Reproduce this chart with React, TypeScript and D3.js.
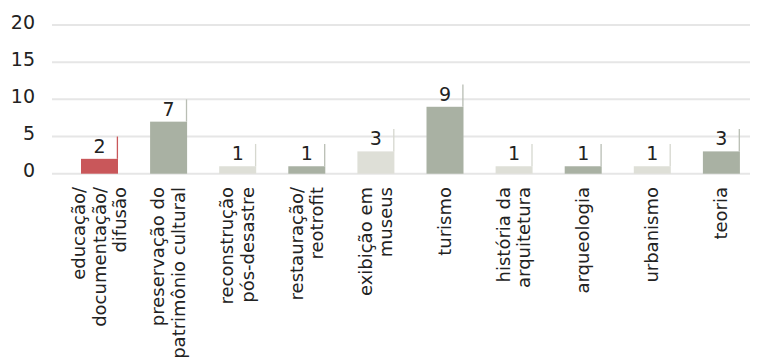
import React from "react";
import * as d3 from "d3";

const categories: string[][] = [
  ["educação/", "documentação/", "difusão"],
  ["preservação do", "patrimônio cultural"],
  ["reconstrução", "pós-desastre"],
  ["restauração/", "reotrofit"],
  ["exibição em", "museus"],
  ["turismo"],
  ["história da", "arquitetura"],
  ["arqueologia"],
  ["urbanismo"],
  ["teoria"],
];
const values: number[] = [2, 7, 1, 1, 3, 9, 1, 1, 1, 3];
const barColors: string[] = [
  "#c9575a", "#a9b1a3", "#dedfd7", "#a9b1a3", "#dedfd7",
  "#a9b1a3", "#dedfd7", "#a9b1a3", "#dedfd7", "#a9b1a3",
];
const stemColors: string[] = [
  "#c9575a", "#b9beb4", "#d6d8cf", "#b9beb4", "#d6d8cf",
  "#b9beb4", "#d6d8cf", "#b9beb4", "#d6d8cf", "#b9beb4",
];
const yTicks: number[] = [0, 5, 10, 15, 20];
const stemExtra = 3;

const W = 763;
const H = 357;
const FONT = "'DejaVu Sans', sans-serif";

export default function App() {
  const ids = categories.map((_, i) => String(i));
  const x = d3
    .scaleBand<string>()
    .domain(ids)
    .range([64.95, 755.95])
    .paddingInner(0.4645)
    .paddingOuter(0.23225);
  const y = d3.scaleLinear().domain([0, 20]).range([173.7, 25]);
  const bw = x.bandwidth();

  return (
    <svg
      width={W}
      height={H}
      style={{ position: "absolute", left: 0, top: 0, display: "block", background: "#fff" }}
      fontFamily={FONT}
    >
      {yTicks.map((t) => (
        <g key={t}>
          <line x1={52} x2={750} y1={y(t)} y2={y(t)} stroke="#e6e6e6" strokeWidth={2} />
          <text x={35} y={y(t) - 2} textAnchor="end" dominantBaseline="middle" fontSize={19} fill="#222">
            {t}
          </text>
        </g>
      ))}
      {values.map((v, i) => {
        const x0 = x(ids[i])!;
        const c = barColors[i];
        return (
          <g key={i}>
            <rect x={x0} y={y(v)} width={bw} height={y(0) - y(v)} fill={c} />
            <line
              x1={x0 + bw - 0.6}
              x2={x0 + bw - 0.6}
              y1={y(v)}
              y2={y(v + stemExtra)}
              stroke={stemColors[i]}
              strokeWidth={1.3}
            />
            <text x={x0 + bw / 2} y={y(v) - 6} textAnchor="middle" fontSize={19} fill="#222">
              {v}
            </text>
          </g>
        );
      })}
      {categories.map((lines, i) => {
        const cx = x(ids[i])! + bw / 2;
        const n = lines.length;
        const lh = 20.5;
        return (
          <g key={i}>
            {lines.map((ln, j) => {
              const lx = cx + (j - (n - 1) / 2) * lh + 6;
              return (
                <text
                  key={j}
                  transform={`translate(${lx},187) rotate(-90)`}
                  textAnchor="end"
                  fontSize={18}
                  fill="#222"
                >
                  {ln}
                </text>
              );
            })}
          </g>
        );
      })}
    </svg>
  );
}
